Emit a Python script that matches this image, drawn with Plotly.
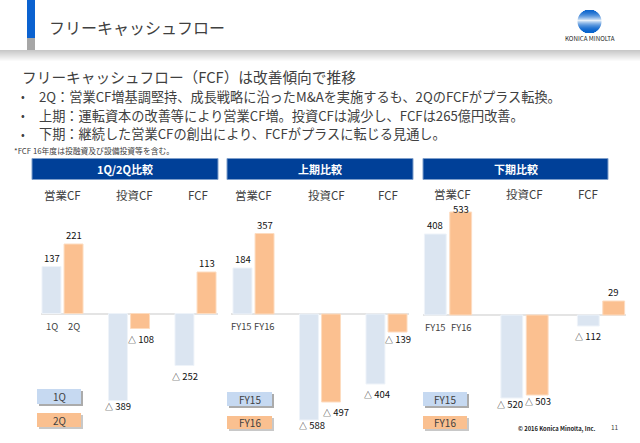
import plotly.graph_objects as go
from plotly.subplots import make_subplots

W, H = 640, 443

# panels
panel_titles = ["1Q/2Q比較", "上期比較", "下期比較"]
categories = ["営業CF", "投資CF", "FCF"]
series_names = [["1Q", "2Q"], ["FY15", "FY16"], ["FY15", "FY16"]]

# printed values (the slide's bars are not drawn to one scale, so the bar
# lengths below are read off the picture separately)
printed_a = [[137, -389, -252], [184, -588, -404], [408, -520, -112]]
printed_b = [[221, -108, 113], [357, -497, -139], [533, -503, 29]]
bars_a = [[47, -87, -52], [46, -106, -70], [81, -83, -11]]
bars_b = [[69.5, -15, 41.5], [80.5, -88, -18], [103, -80, 14]]

bullets = [
    "2Q：営業CF増基調堅持、成長戦略に沿ったM&Aを実施するも、2QのFCFがプラス転換。",
    "上期：運転資本の改善等により営業CF増。投資CFは減少し、FCFは265億円改善。",
    "下期：継続した営業CFの創出により、FCFがプラスに転じる見通し。",
]

FONT = "Noto Sans CJK JP"
BLUE = "#DBE5F1"
ORANGE = "#FBC090"
plot_top, plot_bottom = 183, 432

# pixel layout: axis span, first group centre, group spacing, zero line
spans = [(41, 218), (231, 409), (423, 626)]
centres = [62.5, 253.5, 448]
steps = [66.5, 66.5, 76.5]
zeros = [313.5, 314, 315]
header_boxes = [(32, 218), (227, 413), (423, 608)]
header_label_x = [[62, 134, 198], [253, 326, 388], [452, 524, 588]]
header_label_y = [195, 195, 194]
series_label_x = [[52, 74], [241.5, 264.5], [435, 461]]
series_label_y = [326, 326, 327]
legend_box_x = [(37, 81), (227, 272), (423, 467)]
legend_box_y = [(389, 404, 413, 427), (392, 406, 416, 429), (392, 406, 416, 429)]

# value label offsets from the bar end (x from the category centre, y up), px
dx_a = [[-11, -11, -10.5], [-11, -8, -9.5], [-12.7, -15, -13]]
dx_b = [[11, 11.5, 11.5], [11, 15.5, 11.5], [12.7, 13, 12.7]]
dy_a = [[9, -5, -10], [9, -5, -10], [9, -6, -10]]
dy_b = [[9, -10, 9], [8.5, -10, -7], [3.5, -5.7, 9]]


def fmt(v):
    if v < 0:
        return f'<span style="font-size:8px">△</span> {-v}'
    return str(v)


fig = make_subplots(rows=1, cols=3)

for i in range(3):
    fig.add_trace(go.Bar(x=categories, y=bars_a[i], name=series_names[i][0],
                         marker=dict(color=BLUE, line=dict(color="#EEF3F9", width=1)),
                         showlegend=False), row=1, col=i + 1)
    fig.add_trace(go.Bar(x=categories, y=bars_b[i], name=series_names[i][1],
                         marker=dict(color=ORANGE, line=dict(color="#FDDCC0", width=1)),
                         showlegend=False), row=1, col=i + 1)
    left, right = spans[i]
    fig.update_xaxes(domain=[left / W, right / W], type="category",
                     categoryorder="array", categoryarray=categories,
                     range=[(left - centres[i]) / steps[i], (right - centres[i]) / steps[i]],
                     showticklabels=False, showgrid=False, showline=False, ticks="",
                     row=1, col=i + 1)
    fig.update_yaxes(domain=[1 - plot_bottom / H, 1 - plot_top / H],
                     range=[zeros[i] - plot_bottom, zeros[i] - plot_top],
                     showticklabels=False, showgrid=False, ticks="", showline=False,
                     zeroline=True, zerolinecolor="#E4E4E4", zerolinewidth=1.5,
                     row=1, col=i + 1)

shapes = []
annotations = []


def rect(x0, y0, x1, y1, color, line=None):
    shapes.append(dict(type="rect", xref="paper", yref="paper", x0=x0 / W, x1=x1 / W,
                       y0=1 - y0 / H, y1=1 - y1 / H, fillcolor=color, layer="below",
                       line=dict(width=1, color=line) if line else dict(width=0)))


def label(x, y, text, size, color="#404040", anchor="center", bold=False):
    if bold:
        text = f"<b>{text}</b>"
    annotations.append(dict(xref="paper", yref="paper", x=x / W, y=1 - y / H, text=text,
                            showarrow=False, xanchor=anchor, yanchor="middle",
                            font=dict(size=size, color=color, family=FONT)))


# slide header
rect(27, 0, 35, 38, "#0B62D0")
rect(27, 38, 35, 50, "#A6A6A6")
for k in range(11):
    g = 200 + k * 5
    rect(0, 50 + k, W, 51 + k, f"rgb({g},{g},{g})")
label(47, 27, "フリーキャッシュフロー", 16, anchor="left")

# logo
cx, cy, r = 589.5, 21, 12
for k in range(-r, r + 1):
    half = (r * r - k * k) ** 0.5
    t = abs(k + 1) / r
    c = f"rgb({int(10 + 220 * (1 - t) ** 2)},{int(100 + 140 * (1 - t) ** 2)},{int(205 + 45 * (1 - t) ** 2)})"
    rect(cx - half, cy + k, cx + half, cy + k + 1, c)
label(589.5, 38, "KONICA MINOLTA", 6.2, color="#222222")

# text block
label(20, 76, "フリーキャッシュフロー（FCF）は改善傾向で推移", 14.7, anchor="left")
for y, b in zip([96, 115, 134], bullets):
    label(19, y, "•", 11, anchor="left")
    label(37, y, b, 13.2, anchor="left")
label(12, 150, "*FCF 16年度は投融資及び設備投資等を含む。", 7.8, anchor="left")

for i in range(3):
    # panel headers
    x0, x1 = header_boxes[i]
    rect(x0, 158.5, x1, 179.5, "#004098", line="#7F9FCB")
    label((x0 + x1) / 2, 169, panel_titles[i], 11, color="#FFFFFF", bold=True)
    for x, c in zip(header_label_x[i], categories):
        label(x, header_label_y[i], c, 11.5)
    for x, s in zip(series_label_x[i], series_names[i]):
        label(x, series_label_y[i], s, 9.4)

    # value labels, tied to the bars
    axis = "" if i == 0 else str(i + 1)
    for values, lengths, dx, dy in ((printed_a[i], bars_a[i], dx_a[i], dy_a[i]),
                                    (printed_b[i], bars_b[i], dx_b[i], dy_b[i])):
        for j, c in enumerate(categories):
            annotations.append(dict(xref="x" + axis, yref="y" + axis, x=c, y=lengths[j],
                                    text=fmt(values[j]), showarrow=False, xshift=dx[j],
                                    yshift=dy[j], xanchor="center", yanchor="middle",
                                    font=dict(size=9.5, color="#111111", family=FONT)))

    # legend keys
    kx0, kx1 = legend_box_x[i]
    ya0, ya1, yb0, yb1 = legend_box_y[i]
    rect(kx0 + 2, ya0 + 2, kx1 + 2, ya1 + 2, "#ABABAB")
    rect(kx0, ya0, kx1, ya1, "#C6D9F1")
    label((kx0 + kx1) / 2, (ya0 + ya1) / 2, series_names[i][0], 10)
    rect(kx0 + 2, yb0 + 2, kx1 + 2, yb1 + 2, "#C8C8C8")
    rect(kx0, yb0, kx1, yb1, "#FAC090")
    label((kx0 + kx1) / 2, (yb0 + yb1) / 2, series_names[i][1], 10)

label(597, 428, "<b>© 2016 Konica Minolta, Inc.</b>", 5.8, color="#222222", anchor="right")
label(615, 427, "11", 6.5)

fig.update_layout(width=W, height=H, margin=dict(l=0, r=0, t=0, b=0), autosize=False,
                  paper_bgcolor="white", plot_bgcolor="rgba(0,0,0,0)", barmode="group",
                  bargap=0.336, bargroupgap=0.14, font=dict(family=FONT),
                  shapes=shapes, annotations=annotations)
fig.write_html("out.html", config={"displayModeBar": False, "responsive": False},
               post_script="document.body.style.margin='0';")
